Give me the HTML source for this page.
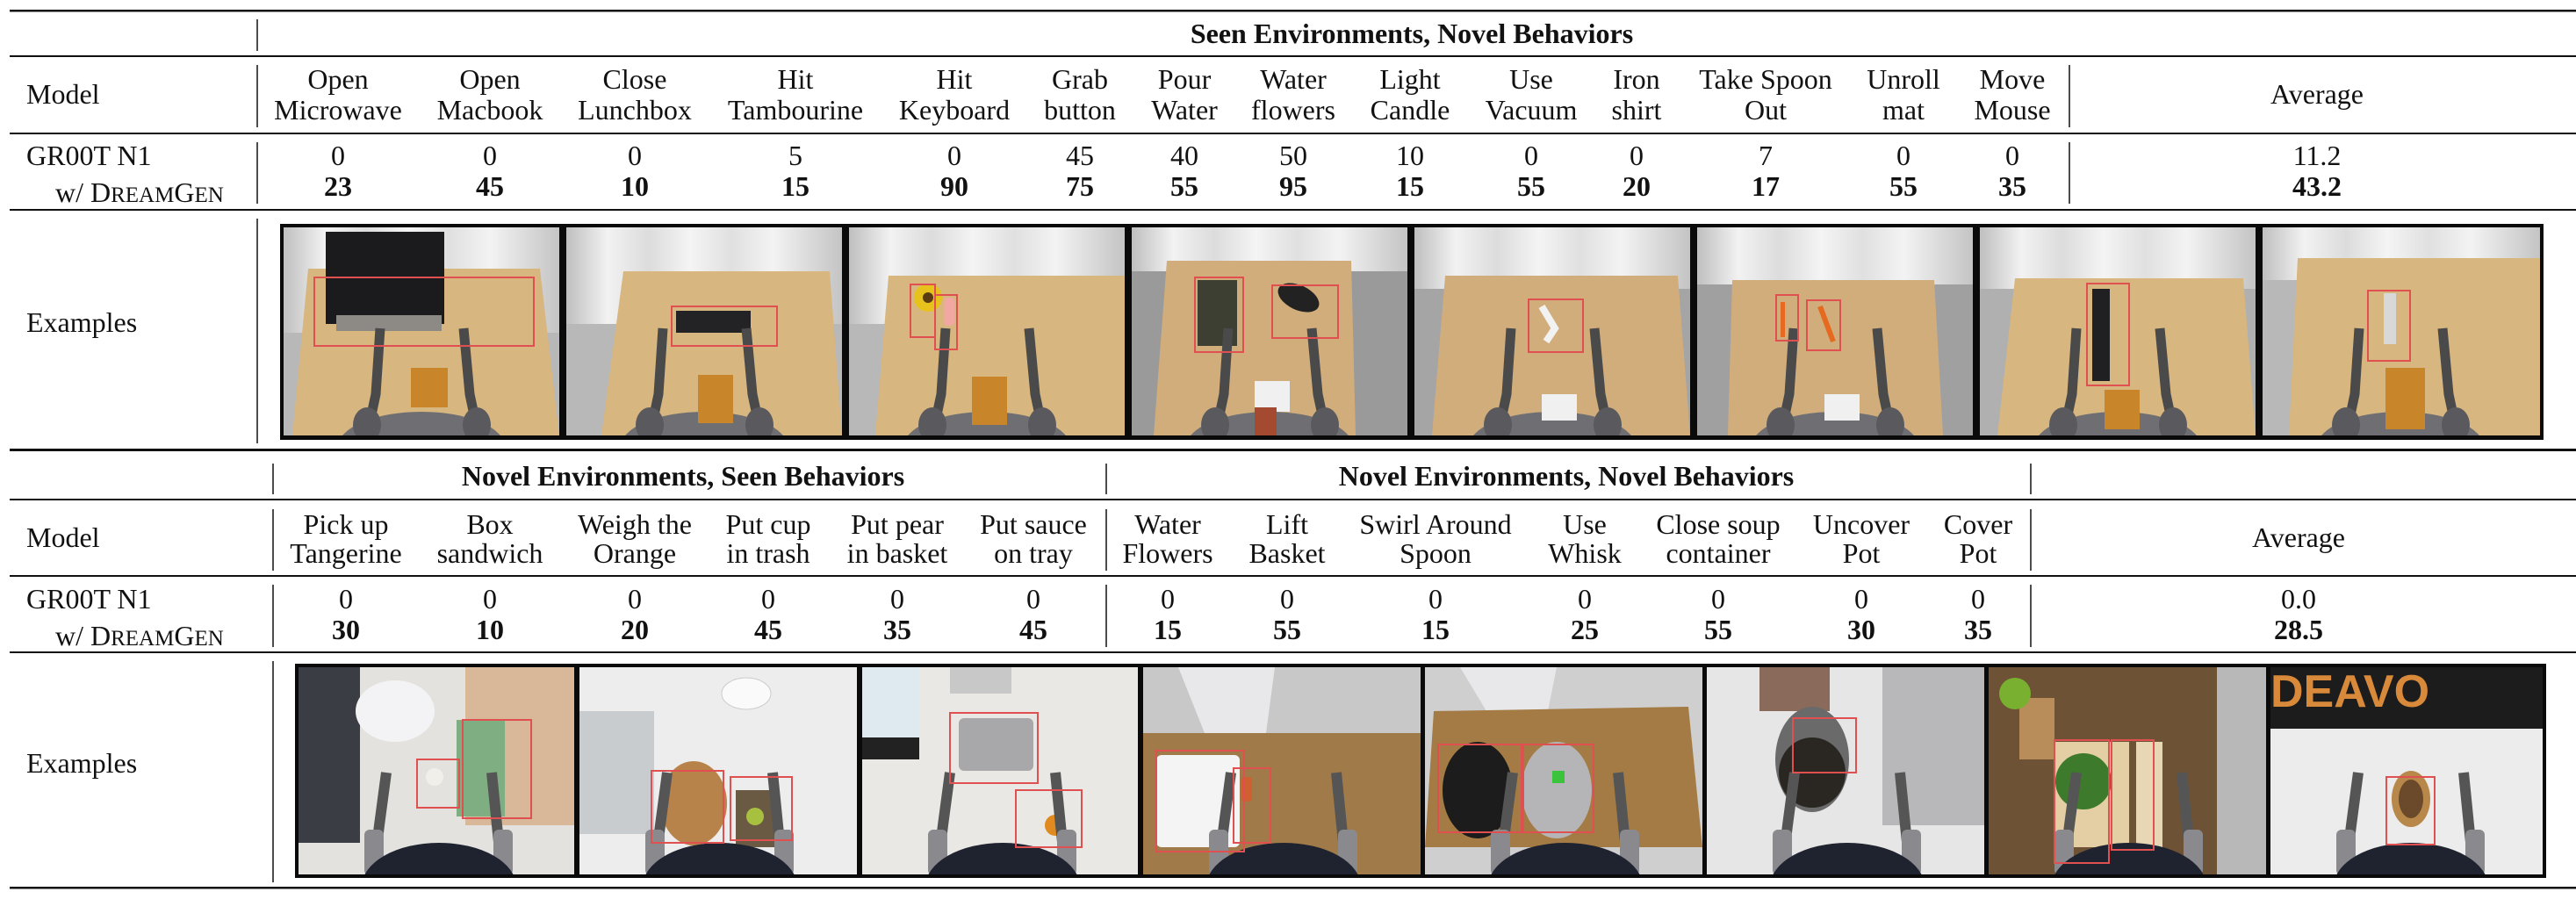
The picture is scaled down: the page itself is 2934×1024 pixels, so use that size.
<!DOCTYPE html>
<html><head><meta charset="utf-8"><style>
html,body{margin:0;padding:0;background:#fff;}
svg{display:block;}
text{font-family:"Liberation Serif","Times New Roman",serif;font-size:32px;fill:#111;}
.b{font-weight:bold;}
</style></head><body>
<svg width="2934" height="1024" viewBox="0 0 2934 1024" xmlns="http://www.w3.org/2000/svg">
<defs>
<linearGradient id="cur" x1="0" y1="0" x2="1" y2="0">
<stop offset="0" stop-color="#bfbfbf"/><stop offset="0.15" stop-color="#f2f2f2"/><stop offset="0.3" stop-color="#dcdcdc"/><stop offset="0.45" stop-color="#f4f4f4"/><stop offset="0.6" stop-color="#e0e0e0"/><stop offset="0.75" stop-color="#f3f3f3"/><stop offset="1" stop-color="#c4c4c4"/>
</linearGradient>
<g id="robot1">
<path d="M95,237 L105,190 L110,115" stroke="#4a4a4a" stroke-width="11" fill="none"/>
<path d="M222,237 L212,190 L205,115" stroke="#4a4a4a" stroke-width="11" fill="none"/>
<ellipse cx="157" cy="250" rx="95" ry="40" fill="#6f6f73"/>
<ellipse cx="95" cy="225" rx="16" ry="20" fill="#5a5a5e"/>
<ellipse cx="220" cy="225" rx="16" ry="20" fill="#5a5a5e"/>
</g>
<g id="robot2">
<path d="M85,237 L92,180 L100,120" stroke="#555" stroke-width="12" fill="none"/>
<path d="M232,237 L226,180 L220,120" stroke="#555" stroke-width="12" fill="none"/>
<rect x="75" y="185" width="22" height="52" rx="6" fill="#8a8a8e"/>
<rect x="222" y="185" width="22" height="52" rx="6" fill="#8a8a8e"/>
<ellipse cx="160" cy="250" rx="88" ry="50" fill="#1f2330"/>
</g>
</defs>

<rect x="11" y="11" width="2923" height="2.5" fill="#111"/>
<rect x="11" y="63" width="2923" height="2" fill="#111"/>
<rect x="11" y="151" width="2923" height="2" fill="#111"/>
<rect x="11" y="238" width="2923" height="2" fill="#111"/>
<rect x="11" y="511" width="2923" height="3" fill="#111"/>
<line x1="293" y1="22" x2="293" y2="58" stroke="#111" stroke-width="1.5"/>
<line x1="293" y1="74" x2="293" y2="145" stroke="#111" stroke-width="1.5"/>
<line x1="293" y1="162" x2="293" y2="232" stroke="#111" stroke-width="1.5"/>
<line x1="293" y1="249" x2="293" y2="505" stroke="#111" stroke-width="1.5"/>
<line x1="2357" y1="74" x2="2357" y2="145" stroke="#111" stroke-width="1.5"/>
<line x1="2357" y1="162" x2="2357" y2="232" stroke="#111" stroke-width="1.5"/>

<text class="b" x="1608" y="49" text-anchor="middle">Seen Environments, Novel Behaviors</text>
<text x="30" y="118">Model</text>
<g text-anchor="middle">
<text x="385" y="101">Open</text><text x="385" y="136">Microwave</text>
<text x="558" y="101">Open</text><text x="558" y="136">Macbook</text>
<text x="723" y="101">Close</text><text x="723" y="136">Lunchbox</text>
<text x="906" y="101">Hit</text><text x="906" y="136">Tambourine</text>
<text x="1087" y="101">Hit</text><text x="1087" y="136">Keyboard</text>
<text x="1230" y="101">Grab</text><text x="1230" y="136">button</text>
<text x="1349" y="101">Pour</text><text x="1349" y="136">Water</text>
<text x="1473" y="101">Water</text><text x="1473" y="136">flowers</text>
<text x="1606" y="101">Light</text><text x="1606" y="136">Candle</text>
<text x="1744" y="101">Use</text><text x="1744" y="136">Vacuum</text>
<text x="1864" y="101">Iron</text><text x="1864" y="136">shirt</text>
<text x="2011" y="101">Take Spoon</text><text x="2011" y="136">Out</text>
<text x="2168" y="101">Unroll</text><text x="2168" y="136">mat</text>
<text x="2292" y="101">Move</text><text x="2292" y="136">Mouse</text>
<text x="2639" y="118">Average</text>
</g>
<text x="30" y="188">GR00T N1</text>
<text x="63" y="230">w/ D<tspan font-size="25">REAM</tspan>G<tspan font-size="25">EN</tspan></text>
<g text-anchor="middle">
<text x="385" y="188">0</text><text x="558" y="188">0</text><text x="723" y="188">0</text><text x="906" y="188">5</text><text x="1087" y="188">0</text><text x="1230" y="188">45</text><text x="1349" y="188">40</text><text x="1473" y="188">50</text><text x="1606" y="188">10</text><text x="1744" y="188">0</text><text x="1864" y="188">0</text><text x="2011" y="188">7</text><text x="2168" y="188">0</text><text x="2292" y="188">0</text><text x="2639" y="188">11.2</text>
</g>
<g text-anchor="middle">
<text class="b" x="385" y="223">23</text><text class="b" x="558" y="223">45</text><text class="b" x="723" y="223">10</text><text class="b" x="906" y="223">15</text><text class="b" x="1087" y="223">90</text><text class="b" x="1230" y="223">75</text><text class="b" x="1349" y="223">55</text><text class="b" x="1473" y="223">95</text><text class="b" x="1606" y="223">15</text><text class="b" x="1744" y="223">55</text><text class="b" x="1864" y="223">20</text><text class="b" x="2011" y="223">17</text><text class="b" x="2168" y="223">55</text><text class="b" x="2292" y="223">35</text><text class="b" x="2639" y="223">43.2</text>
</g>
<text x="30" y="378">Examples</text>

<rect x="319" y="255" width="2578" height="246" fill="#0a0a0a"/>
<svg x="323" y="259" width="314" height="237" overflow="hidden">
<rect width="314" height="237" fill="#b8b8b8"/><rect width="314" height="120" fill="url(#cur)"/>
<polygon points="28,47 292,47 314,237 10,237" fill="#d8b67f"/>
<rect x="48" y="5" width="135" height="105" fill="#1b1b1d"/>
<rect x="60" y="100" width="120" height="18" fill="#8d8a86"/>
<use href="#robot1"/>
<rect x="145" y="160" width="42" height="45" fill="#c8852a"/>
<rect x="35" y="57" width="250" height="78" fill="none" stroke="#e05050" stroke-width="2"/>
</svg>
<svg x="645" y="259" width="314" height="237" overflow="hidden">
<rect width="314" height="237" fill="#b8b8b8"/><rect width="314" height="110" fill="url(#cur)"/>
<polygon points="65,50 300,50 314,237 40,237" fill="#d8b67f"/>
<rect x="125" y="95" width="85" height="25" fill="#232325"/>
<use href="#robot1"/>
<rect x="150" y="168" width="40" height="55" fill="#c8852a"/>
<rect x="120" y="90" width="120" height="45" fill="none" stroke="#e05050" stroke-width="2"/>
</svg>
<svg x="967" y="259" width="314" height="237" overflow="hidden">
<rect width="314" height="237" fill="#b8b8b8"/><rect width="314" height="110" fill="url(#cur)"/>
<polygon points="45,55 314,55 314,237 30,237" fill="#d8b67f"/>
<circle cx="90" cy="80" r="16" fill="#e8c21c"/><circle cx="90" cy="80" r="6" fill="#5a3b12"/>
<rect x="108" y="80" width="12" height="32" rx="4" fill="#f0a8a0"/>
<use href="#robot1"/>
<rect x="140" y="170" width="40" height="55" fill="#c8852a"/>
<rect x="70" y="65" width="28" height="60" fill="none" stroke="#e05050" stroke-width="2"/>
<rect x="98" y="77" width="25" height="62" fill="none" stroke="#e05050" stroke-width="2"/>
</svg>
<svg x="1289" y="259" width="314" height="237" overflow="hidden">
<rect width="314" height="237" fill="#9a9a9a"/><rect width="314" height="50" fill="url(#cur)"/>
<polygon points="40,38 250,38 255,237 25,237" fill="#d1ad7c"/>
<rect x="75" y="60" width="45" height="75" fill="#3d3f33"/>
<ellipse cx="190" cy="80" rx="25" ry="14" fill="#222" transform="rotate(25 190 80)"/>
<use href="#robot1"/>
<rect x="140" y="175" width="40" height="35" fill="#f0f0f0"/>
<rect x="140" y="205" width="25" height="32" fill="#a44a30"/>
<rect x="72" y="57" width="55" height="85" fill="none" stroke="#e05050" stroke-width="2"/>
<rect x="160" y="66" width="75" height="60" fill="none" stroke="#e05050" stroke-width="2"/>
</svg>
<svg x="1611" y="259" width="314" height="237" overflow="hidden">
<rect width="314" height="237" fill="#a5a5a5"/><rect width="314" height="70" fill="url(#cur)"/>
<polygon points="35,55 300,55 314,237 20,237" fill="#d1ad7c"/>
<path d="M145,90 L160,115 L150,130" stroke="#f2f2f2" stroke-width="8" fill="none"/>
<use href="#robot1"/>
<rect x="145" y="190" width="40" height="30" fill="#f0f0f0"/>
<rect x="130" y="82" width="62" height="60" fill="none" stroke="#e05050" stroke-width="2"/>
</svg>
<svg x="1933" y="259" width="314" height="237" overflow="hidden">
<rect width="314" height="237" fill="#a0a0a0"/><rect width="314" height="65" fill="url(#cur)"/>
<polygon points="40,60 270,60 280,237 35,237" fill="#d1ad7c"/>
<rect x="95" y="85" width="5" height="40" fill="#e56a20"/>
<path d="M140,90 L155,130" stroke="#e56a20" stroke-width="6"/>
<use href="#robot1"/>
<rect x="145" y="190" width="40" height="30" fill="#f0f0f0"/>
<rect x="90" y="77" width="25" height="52" fill="none" stroke="#e05050" stroke-width="2"/>
<rect x="125" y="83" width="38" height="57" fill="none" stroke="#e05050" stroke-width="2"/>
</svg>
<svg x="2255" y="259" width="314" height="237" overflow="hidden">
<rect width="314" height="237" fill="#b0b0b0"/><rect width="314" height="70" fill="url(#cur)"/>
<polygon points="40,58 300,58 314,237 20,237" fill="#d8b67f"/>
<rect x="128" y="70" width="20" height="105" fill="#202022"/>
<use href="#robot1"/>
<rect x="142" y="185" width="40" height="45" fill="#c8852a"/>
<rect x="122" y="64" width="48" height="116" fill="none" stroke="#e05050" stroke-width="2"/>
</svg>
<svg x="2577" y="259" width="316" height="237" overflow="hidden">
<rect width="316" height="237" fill="#b8b8b8"/><rect width="316" height="60" fill="url(#cur)"/>
<polygon points="40,35 316,35 316,237 30,237" fill="#d8b67f"/>
<rect x="138" y="75" width="14" height="58" fill="#d8d8d8"/>
<use href="#robot1"/>
<rect x="140" y="160" width="45" height="70" fill="#c8852a"/>
<rect x="120" y="72" width="48" height="80" fill="none" stroke="#e05050" stroke-width="2"/>
</svg>

<rect x="11" y="568" width="2923" height="2" fill="#111"/>
<rect x="11" y="655" width="2923" height="2" fill="#111"/>
<rect x="11" y="742" width="2923" height="2" fill="#111"/>
<rect x="11" y="1010" width="2923" height="2.5" fill="#111"/>
<g stroke="#111" stroke-width="1.5">
<line x1="311" y1="528" x2="311" y2="563"/><line x1="311" y1="580" x2="311" y2="650"/><line x1="311" y1="666" x2="311" y2="737"/><line x1="311" y1="753" x2="311" y2="1005"/>
<line x1="1260" y1="528" x2="1260" y2="563"/><line x1="1260" y1="580" x2="1260" y2="650"/><line x1="1260" y1="666" x2="1260" y2="737"/>
<line x1="2313" y1="528" x2="2313" y2="563"/><line x1="2313" y1="580" x2="2313" y2="650"/><line x1="2313" y1="666" x2="2313" y2="737"/>
</g>
<text class="b" x="778" y="553" text-anchor="middle">Novel Environments, Seen Behaviors</text>
<text class="b" x="1784" y="553" text-anchor="middle">Novel Environments, Novel Behaviors</text>
<text x="30" y="623">Model</text>
<g text-anchor="middle">
<text x="394" y="608">Pick up</text><text x="394" y="641">Tangerine</text>
<text x="558" y="608">Box</text><text x="558" y="641">sandwich</text>
<text x="723" y="608">Weigh the</text><text x="723" y="641">Orange</text>
<text x="875" y="608">Put cup</text><text x="875" y="641">in trash</text>
<text x="1022" y="608">Put pear</text><text x="1022" y="641">in basket</text>
<text x="1177" y="608">Put sauce</text><text x="1177" y="641">on tray</text>
<text x="1330" y="608">Water</text><text x="1330" y="641">Flowers</text>
<text x="1466" y="608">Lift</text><text x="1466" y="641">Basket</text>
<text x="1635" y="608">Swirl Around</text><text x="1635" y="641">Spoon</text>
<text x="1805" y="608">Use</text><text x="1805" y="641">Whisk</text>
<text x="1957" y="608">Close soup</text><text x="1957" y="641">container</text>
<text x="2120" y="608">Uncover</text><text x="2120" y="641">Pot</text>
<text x="2253" y="608">Cover</text><text x="2253" y="641">Pot</text>
<text x="2618" y="623">Average</text>
</g>
<text x="30" y="693">GR00T N1</text>
<text x="63" y="735">w/ D<tspan font-size="25">REAM</tspan>G<tspan font-size="25">EN</tspan></text>
<g text-anchor="middle">
<text x="394" y="693">0</text><text x="558" y="693">0</text><text x="723" y="693">0</text><text x="875" y="693">0</text><text x="1022" y="693">0</text><text x="1177" y="693">0</text><text x="1330" y="693">0</text><text x="1466" y="693">0</text><text x="1635" y="693">0</text><text x="1805" y="693">0</text><text x="1957" y="693">0</text><text x="2120" y="693">0</text><text x="2253" y="693">0</text><text x="2618" y="693">0.0</text>
</g>
<g text-anchor="middle">
<text class="b" x="394" y="728">30</text><text class="b" x="558" y="728">10</text><text class="b" x="723" y="728">20</text><text class="b" x="875" y="728">45</text><text class="b" x="1022" y="728">35</text><text class="b" x="1177" y="728">45</text><text class="b" x="1330" y="728">15</text><text class="b" x="1466" y="728">55</text><text class="b" x="1635" y="728">15</text><text class="b" x="1805" y="728">25</text><text class="b" x="1957" y="728">55</text><text class="b" x="2120" y="728">30</text><text class="b" x="2253" y="728">35</text><text class="b" x="2618" y="728">28.5</text>
</g>
<text x="30" y="880">Examples</text>

<rect x="336" y="756" width="2564" height="244" fill="#0a0a0a"/>
<svg x="340" y="760" width="314" height="236" overflow="hidden">
<rect width="314" height="236" fill="#e4e2de"/>
<rect x="190" y="0" width="124" height="180" fill="#d8b898"/>
<rect x="0" y="0" width="70" height="200" fill="#3a3d44"/>
<ellipse cx="110" cy="50" rx="45" ry="35" fill="#f3f3f5"/>
<rect x="180" y="60" width="55" height="110" fill="#7fae82"/>
<circle cx="155" cy="125" r="10" fill="#f0efea"/>
<use href="#robot2"/>
<rect x="135" y="105" width="48" height="55" fill="none" stroke="#e05050" stroke-width="2"/>
<rect x="187" y="60" width="78" height="112" fill="none" stroke="#e05050" stroke-width="2"/>
</svg>
<svg x="660" y="760" width="316" height="236" overflow="hidden">
<rect width="316" height="236" fill="#ededed"/>
<rect x="0" y="50" width="85" height="140" fill="#c9ccce"/>
<ellipse cx="190" cy="30" rx="28" ry="18" fill="#fafafa" stroke="#ccc"/>
<ellipse cx="130" cy="155" rx="38" ry="48" fill="#b8834a"/>
<rect x="178" y="140" width="48" height="65" fill="#6a5a44"/>
<circle cx="200" cy="170" r="10" fill="#a8c040"/>
<use href="#robot2"/>
<rect x="82" y="118" width="82" height="82" fill="none" stroke="#e05050" stroke-width="2"/>
<rect x="172" y="125" width="70" height="72" fill="none" stroke="#e05050" stroke-width="2"/>
</svg>
<svg x="982" y="760" width="314" height="236" overflow="hidden">
<rect width="314" height="236" fill="#e9e8e4"/>
<rect x="0" y="0" width="65" height="90" fill="#dfeaf0"/>
<rect x="0" y="80" width="65" height="25" fill="#222"/>
<rect x="100" y="0" width="70" height="30" fill="#c8c8c8"/>
<rect x="110" y="58" width="85" height="60" rx="6" fill="#a8a8aa"/>
<circle cx="220" cy="180" r="12" fill="#e08a20"/>
<use href="#robot2"/>
<rect x="100" y="52" width="100" height="80" fill="none" stroke="#e05050" stroke-width="2"/>
<rect x="175" y="140" width="75" height="65" fill="none" stroke="#e05050" stroke-width="2"/>
</svg>
<svg x="1302" y="760" width="316" height="236" overflow="hidden">
<rect width="316" height="236" fill="#c8c8c8"/>
<polygon points="40,0 150,0 140,75 70,75" fill="#e8e8ea"/>
<rect x="0" y="75" width="316" height="161" fill="#a07a48"/>
<rect x="15" y="100" width="95" height="105" rx="6" fill="#f4f4f4"/>
<rect x="112" y="125" width="12" height="28" rx="4" fill="#d06030"/>
<use href="#robot2"/>
<rect x="15" y="95" width="100" height="115" fill="none" stroke="#e05050" stroke-width="2"/>
<rect x="103" y="115" width="42" height="85" fill="none" stroke="#e05050" stroke-width="2"/>
</svg>
<svg x="1623" y="760" width="316" height="236" overflow="hidden">
<rect width="316" height="236" fill="#cfcfcf"/>
<polygon points="40,0 150,0 140,50 70,50" fill="#e8e8ea"/>
<polygon points="10,50 300,45 316,205 0,205" fill="#a57b45"/>
<ellipse cx="60" cy="140" rx="40" ry="55" fill="#1c1c1c"/>
<ellipse cx="150" cy="140" rx="40" ry="55" fill="#b5b5b7"/>
<rect x="145" y="118" width="14" height="14" fill="#3bc43b"/>
<use href="#robot2"/>
<rect x="15" y="88" width="95" height="100" fill="none" stroke="#e05050" stroke-width="2"/>
<rect x="112" y="88" width="80" height="100" fill="none" stroke="#e05050" stroke-width="2"/>
</svg>
<svg x="1944" y="760" width="316" height="236" overflow="hidden">
<rect width="316" height="236" fill="#e6e6e6"/>
<rect x="60" y="0" width="80" height="50" fill="#8a6a5a"/>
<rect x="200" y="0" width="116" height="180" fill="#b8b8ba"/>
<ellipse cx="120" cy="105" rx="42" ry="60" fill="#6a6a6a"/>
<ellipse cx="120" cy="120" rx="38" ry="40" fill="#2a2622"/>
<use href="#robot2"/>
<rect x="98" y="58" width="72" height="62" fill="none" stroke="#e05050" stroke-width="2"/>
</svg>
<svg x="2265" y="760" width="316" height="236" overflow="hidden">
<rect width="316" height="236" fill="#b8b8b8"/>
<rect x="0" y="0" width="260" height="236" fill="#6e5236"/>
<rect x="35" y="35" width="40" height="70" fill="#b88d5a"/>
<circle cx="30" cy="30" r="18" fill="#7ab030"/>
<rect x="75" y="85" width="85" height="120" fill="#e4cfa5"/>
<circle cx="108" cy="130" r="32" fill="#3e7a2c"/>
<rect x="168" y="85" width="30" height="120" fill="#e8d7b4"/>
<use href="#robot2"/>
<rect x="75" y="83" width="62" height="140" fill="none" stroke="#e05050" stroke-width="2"/>
<rect x="140" y="83" width="48" height="125" fill="none" stroke="#e05050" stroke-width="2"/>
</svg>
<svg x="2586" y="760" width="310" height="236" overflow="hidden">
<rect width="310" height="236" fill="#ececec"/>
<rect width="310" height="70" fill="#1c1c1c"/>
<text x="0" y="45" style="font-family:'Liberation Sans',sans-serif;font-size:52px;font-weight:bold;fill:#d8893a;">DEAVO</text>
<ellipse cx="160" cy="150" rx="22" ry="32" fill="#b8884a"/>
<ellipse cx="160" cy="150" rx="14" ry="22" fill="#6a4a2a"/>
<use href="#robot2"/>
<rect x="132" y="125" width="55" height="77" fill="none" stroke="#e05050" stroke-width="2"/>
</svg>
</svg>
</body></html>
